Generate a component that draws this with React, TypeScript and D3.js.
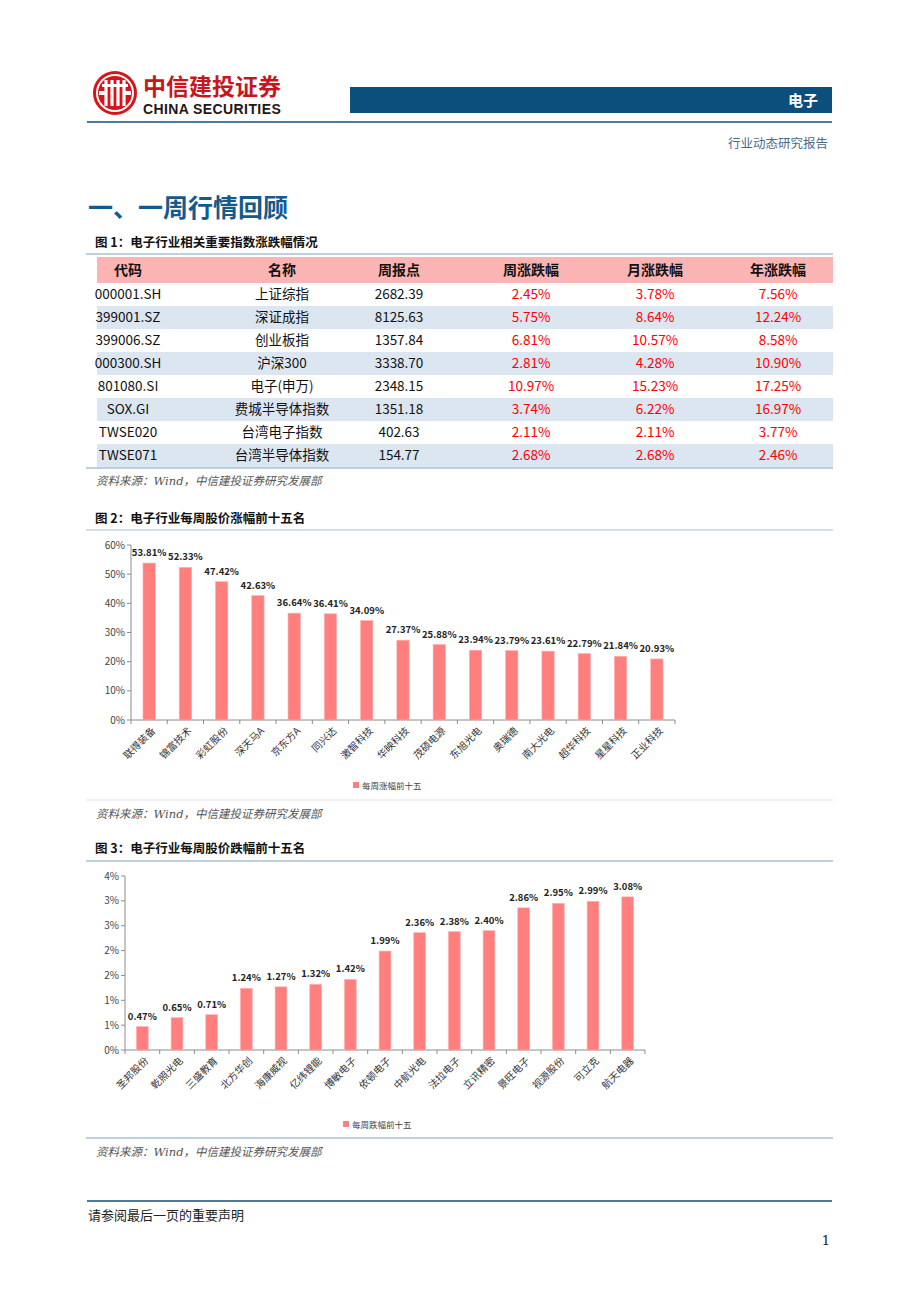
import React from "react";
import * as d3 from "d3";

// ---- table data (图1)
const codes = ["000001.SH", "399001.SZ", "399006.SZ", "000300.SH", "801080.SI", "SOX.GI", "TWSE020", "TWSE071"];
const indexNames = ["上证综指", "深证成指", "创业板指", "沪深300", "电子(申万)", "费城半导体指数", "台湾电子指数", "台湾半导体指数"];
const weekPoints = ["2682.39", "8125.63", "1357.84", "3338.70", "2348.15", "1351.18", "402.63", "154.77"];
const weekChg = ["2.45%", "5.75%", "6.81%", "2.81%", "10.97%", "3.74%", "2.11%", "2.68%"];
const monthChg = ["3.78%", "8.64%", "10.57%", "4.28%", "15.23%", "6.22%", "2.11%", "2.68%"];
const yearChg = ["7.56%", "12.24%", "8.58%", "10.90%", "17.25%", "16.97%", "3.77%", "2.46%"];
const tableHeaders = ["代码", "名称", "周报点", "周涨跌幅", "月涨跌幅", "年涨跌幅"];

// ---- 图2 涨幅前十五
const gainNames = ["联得装备", "锦富技术", "彩虹股份", "深天马A", "京东方A", "同兴达", "激智科技", "华映科技", "茂硕电源", "东旭光电", "奥瑞德", "南大光电", "超华科技", "星星科技", "正业科技"];
const gainValues = [53.81, 52.33, 47.42, 42.63, 36.64, 36.41, 34.09, 27.37, 25.88, 23.94, 23.79, 23.61, 22.79, 21.84, 20.93];
const gainTicks = [0, 10, 20, 30, 40, 50, 60];
const gainTickLabels = ["0%", "10%", "20%", "30%", "40%", "50%", "60%"];

// ---- 图3 跌幅前十五
const lossNames = ["圣邦股份", "乾照光电", "三盛教育", "北方华创", "海康威视", "亿纬锂能", "博敏电子", "依顿电子", "中航光电", "法拉电子", "立讯精密", "景旺电子", "视源股份", "可立克", "航天电器"];
const lossValues = [0.47, 0.65, 0.71, 1.24, 1.27, 1.32, 1.42, 1.99, 2.36, 2.38, 2.4, 2.86, 2.95, 2.99, 3.08];
const lossTicks = [0, 0.5, 1, 1.5, 2, 2.5, 3, 3.5];
const lossTickLabels = ["0%", "1%", "1%", "2%", "2%", "3%", "3%", "4%"];

const SANS = "'Noto Sans CJK SC', 'Noto Sans', sans-serif";
const SERIF = "'DejaVu Serif', 'Liberation Serif', 'Noto Sans CJK SC', serif";
const BLUE = "#0b4f7c";
const BAR = "#ff7f7f";

type BarProps = {
  names: string[];
  values: number[];
  ticks: number[];
  tickLabels: string[];
  left: number;
  right: number;
  top: number;
  bottom: number;
  legend: string;
  legendX: number;
  legendY: number;
};

const BarChart = ({ names, values, ticks, tickLabels, left, right, top, bottom, legend, legendX, legendY }: BarProps) => {
  const x = d3.scaleBand<string>().domain(names).range([left, right]).paddingInner(0.66).paddingOuter(0.33);
  const y = d3.scaleLinear().domain([0, ticks[ticks.length - 1]]).range([bottom, top]);
  const step = x.step();
  const bounds = d3.range(names.length + 1).map((i) => left + i * ((right - left) / names.length));
  return (
    <g fontFamily={SANS}>
      {/* y axis */}
      <line x1={left} x2={left} y1={top} y2={bottom} stroke="#8c8c8c" />
      {ticks.map((t, i) => (
        <g key={t}>
          <line x1={left - 4} x2={left} y1={y(t)} y2={y(t)} stroke="#8c8c8c" />
          <text x={left - 6} y={y(t)} dy="0.35em" textAnchor="end" fontSize={10} fill="#444">
            {tickLabels[i]}
          </text>
        </g>
      ))}
      {/* x axis */}
      <line x1={left} x2={right} y1={bottom} y2={bottom} stroke="#8c8c8c" />
      {bounds.map((bx, i) => (
        <line key={i} x1={bx} x2={bx} y1={bottom} y2={bottom + 4} stroke="#8c8c8c" />
      ))}
      {names.map((n, i) => {
        const cx = (x(n) as number) + x.bandwidth() / 2;
        return (
          <g key={n}>
            <rect
              x={x(n)}
              y={y(values[i])}
              width={x.bandwidth()}
              height={bottom - y(values[i])}
              fill={BAR}
              stroke="#ffb0b0"
              strokeWidth={0.6}
            />
            <text x={cx} y={y(values[i]) - 7} textAnchor="middle" fontSize={9.5} fontWeight="bold" fill="#222">
              {values[i].toFixed(2)}%
            </text>
            <text
              transform={`translate(${cx + step * 0.12},${bottom + 9}) rotate(-45)`}
              textAnchor="end"
              dy="0.35em"
              fontSize={10}
              fill="#333"
            >
              {n}
            </text>
          </g>
        );
      })}
      {/* legend */}
      <rect x={legendX} y={legendY - 4} width={6} height={6} fill={BAR} />
      <text x={legendX + 9} y={legendY} dy="0.3em" fontSize={8.5} fill="#444">
        {legend}
      </text>
    </g>
  );
};

const App = () => {
  const colX = [128, 282, 399, 531, 655, 778];
  const rowTop = 283;
  const rowH = 23;
  return (
    <svg width={920} height={1302} style={{ position: "absolute", left: 0, top: 0, background: "#fff" }}>
      {/* header logo */}
      <g>
        <circle cx={115} cy={93} r={22} fill="#d7141a" />
        <circle cx={115} cy={93} r={18} fill="none" stroke="#fff" strokeWidth={2} />
        {[-9, -3, 3, 9].map((dx) => (
          <rect key={dx} x={115 + dx - 1.6} y={80} width={3.2} height={26} fill="#fff" />
        ))}
        <rect x={102} y={84} width={26} height={3} fill="#fff" />
        <rect x={99} y={91} width={6} height={4} fill="#fff" />
        <rect x={125} y={91} width={6} height={4} fill="#fff" />
      </g>
      <text x={143} y={95} fontFamily={SANS} fontWeight="bold" fontSize={23} fill="#c8161d">
        中信建投证券
      </text>
      <text x={143} y={114} fontFamily="'Liberation Sans', Arial, sans-serif" fontWeight="bold" fontSize={14} letterSpacing={0.4} fill="#231815">
        CHINA SECURITIES
      </text>
      <rect x={350} y={87} width={482} height={26} fill={BLUE} />
      <text x={818} y={106} textAnchor="end" fontFamily={SANS} fontWeight="bold" fontSize={15} fill="#fff">
        电子
      </text>
      <line x1={87} x2={832} y1={122} y2={122} stroke={BLUE} strokeWidth={1.6} />
      <text x={828} y={148} textAnchor="end" fontFamily={SERIF} fontSize={12.5} fill="#4d6a86">
        行业动态研究报告
      </text>

      {/* section title */}
      <text x={88} y={217} fontFamily={SANS} fontWeight="bold" fontSize={25} fill="#145a8c">
        一、一周行情回顾
      </text>

      {/* 图1 table */}
      <text x={95} y={247} fontFamily={SANS} fontWeight="bold" fontSize={12.5} fill="#111">
        图 1：电子行业相关重要指数涨跌幅情况
      </text>
      <line x1={86} x2={833} y1={254} y2={254} stroke="#7f9fbd" strokeWidth={1.2} />
      <rect x={97} y={257} width={736} height={26} fill="#fbb4b4" />
      {tableHeaders.map((h, i) => (
        <text key={h} x={colX[i]} y={270} dy="0.35em" textAnchor="middle" fontFamily={SANS} fontWeight="bold" fontSize={14} fill="#111">
          {h}
        </text>
      ))}
      {codes.map((c, r) => {
        const yy = rowTop + r * rowH;
        const cells = [c, indexNames[r], weekPoints[r], weekChg[r], monthChg[r], yearChg[r]];
        return (
          <g key={c}>
            {r % 2 === 1 && <rect x={97} y={yy} width={736} height={rowH} fill="#dbe6f1" />}
            {cells.map((v, i) => (
              <text
                key={i}
                x={colX[i]}
                y={yy + rowH / 2}
                dy="0.35em"
                textAnchor="middle"
                fontFamily={SANS}
                fontSize={13.5}
                fill={i >= 3 ? "#ff0000" : "#111"}
              >
                {v}
              </text>
            ))}
          </g>
        );
      })}
      <line x1={86} x2={833} y1={468} y2={468} stroke="#7f9fbd" strokeWidth={1.2} />
      <text x={96} y={485} fontFamily={SERIF} fontStyle="italic" fontSize={11.5} fill="#555">
        资料来源：Wind，中信建投证券研究发展部
      </text>

      {/* 图2 */}
      <text x={95} y={523} fontFamily={SANS} fontWeight="bold" fontSize={12.5} fill="#111">
        图 2：电子行业每周股价涨幅前十五名
      </text>
      <line x1={86} x2={833} y1={530} y2={530} stroke="#a9bfd3" strokeWidth={1.2} />
      <BarChart
        names={gainNames}
        values={gainValues}
        ticks={gainTicks}
        tickLabels={gainTickLabels}
        left={131}
        right={675}
        top={545}
        bottom={720}
        legend="每周涨幅前十五"
        legendX={353}
        legendY={786}
      />
      <line x1={86} x2={833} y1={800} y2={800} stroke="#e3e3e3" strokeWidth={1} />
      <text x={96} y={818} fontFamily={SERIF} fontStyle="italic" fontSize={11.5} fill="#555">
        资料来源：Wind，中信建投证券研究发展部
      </text>

      {/* 图3 */}
      <text x={95} y={853} fontFamily={SANS} fontWeight="bold" fontSize={12.5} fill="#111">
        图 3：电子行业每周股价跌幅前十五名
      </text>
      <line x1={86} x2={833} y1={861} y2={861} stroke="#7f9fbd" strokeWidth={1.2} />
      <BarChart
        names={lossNames}
        values={lossValues}
        ticks={lossTicks}
        tickLabels={lossTickLabels}
        left={125}
        right={645}
        top={876}
        bottom={1050}
        legend="每周跌幅前十五"
        legendX={343}
        legendY={1125}
      />
      <line x1={86} x2={833} y1={1138} y2={1138} stroke="#7f9fbd" strokeWidth={1.2} />
      <text x={96} y={1156} fontFamily={SERIF} fontStyle="italic" fontSize={11.5} fill="#555">
        资料来源：Wind，中信建投证券研究发展部
      </text>

      {/* footer */}
      <line x1={87} x2={832} y1={1201} y2={1201} stroke={BLUE} strokeWidth={1.6} />
      <text x={88} y={1220} fontFamily={SERIF} fontSize={13} fill="#222">
        请参阅最后一页的重要声明
      </text>
      <text x={830} y={1245} textAnchor="end" fontFamily={SERIF} fontSize={13} fill="#222">
        1
      </text>
    </svg>
  );
};

export default App;
